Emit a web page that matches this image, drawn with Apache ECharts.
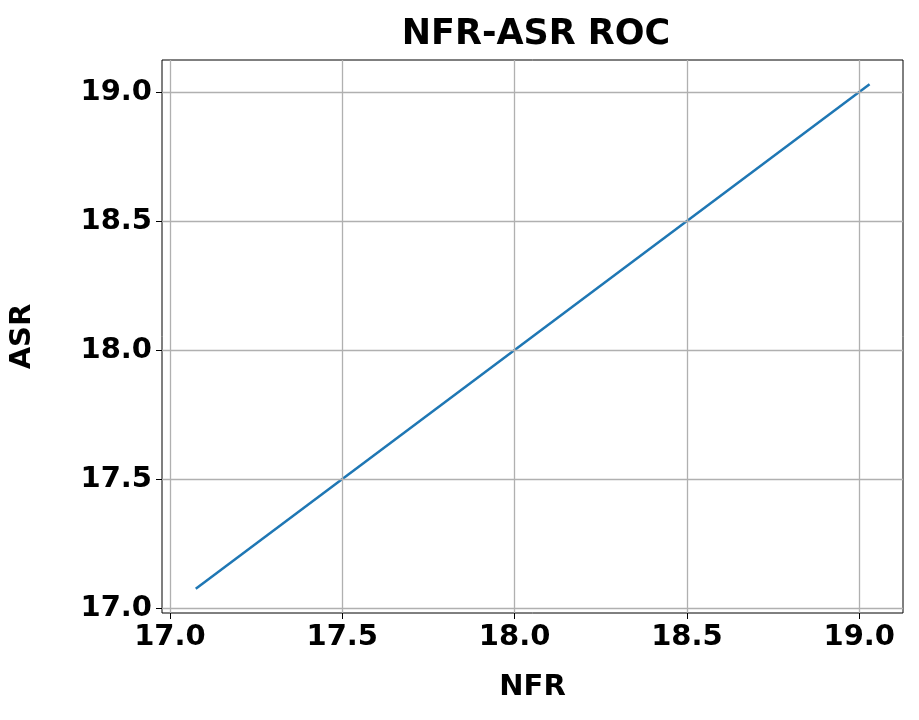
<!DOCTYPE html>
<html lang="en">
<head>
    <meta charset="UTF-8">
    <title>NFR-ASR ROC</title>
    <script src="https://cdn.jsdelivr.net/npm/echarts@6/dist/echarts.min.js"></script>
    <style>
        body { margin: 0; background: #fff; }
        #chart { width: 919px; height: 720px; }
    </style>
</head>
<body>
<div id="chart"></div>
<script>
    var nfr = [17.075, 19.03];
    var asr = [17.075, 19.03];
    var ticks = [17.0, 17.5, 18.0, 18.5, 19.0];

    var font = 'DejaVu Sans';
    var points = nfr.map(function (v, i) { return [v, asr[i]]; });
    var gridX = ticks.map(function (t) { return {xAxis: t}; });
    var gridY = ticks.map(function (t) { return {yAxis: t}; });

    function axis(name, min, max, gap) {
        return {
            type: 'value', min: min, max: max,
            name: name, nameLocation: 'middle', nameGap: gap,
            nameTextStyle: {fontFamily: font, fontWeight: 'bold', fontSize: 29, color: '#000'},
            axisLine: {show: false},
            axisTick: {show: true, length: 6, lineStyle: {color: '#000'}, customValues: ticks},
            axisLabel: {
                fontFamily: font, fontWeight: 'bold', fontSize: 29, color: '#000', margin: 10,
                customValues: ticks,
                formatter: function (v) { return v.toFixed(1); }
            },
            splitLine: {show: false}
        };
    }

    var chart = echarts.init(document.getElementById('chart'));
    chart.setOption({
        animation: false,
        title: {
            text: 'NFR-ASR ROC', left: 531, top: 12, textAlign: 'center',
            textStyle: {fontFamily: font, fontWeight: 'bold', fontSize: 35, color: '#000'}
        },
        grid: {left: 159, right: 16, top: 60, bottom: 107, show: true, borderColor: '#000', borderWidth: 1},
        xAxis: axis('NFR', 16.977, 19.127, 60),
        yAxis: axis('ASR', 16.981, 19.124, 125),
        series: [{
            type: 'line', data: points, showSymbol: false,
            lineStyle: {color: '#1f77b4', width: 2.5},
            markLine: {
                silent: true, symbol: 'none', label: {show: false},
                lineStyle: {color: '#b0b0b0', type: 'solid', width: 1.3},
                data: gridX.concat(gridY)
            }
        }]
    });
</script>
</body>
</html>
